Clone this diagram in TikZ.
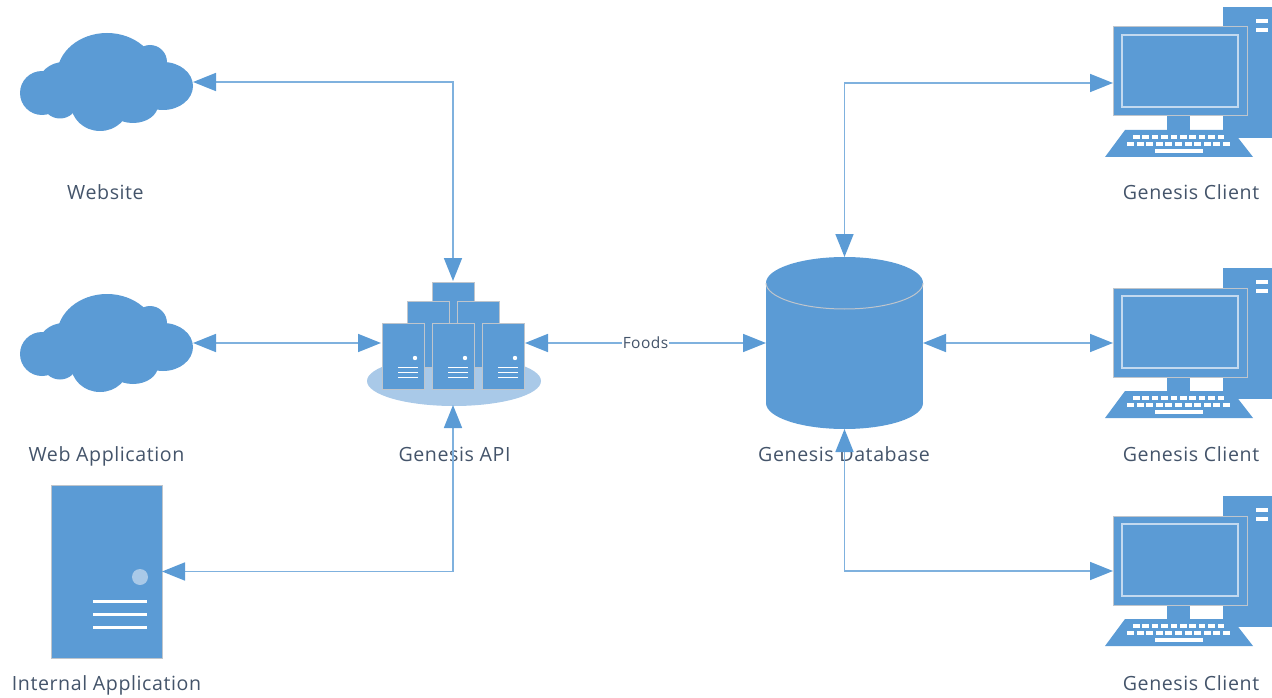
\documentclass[tikz,border=0pt]{standalone}
\usepackage{fontspec}
\setmainfont[LetterSpace=3]{Open Sans}
\usetikzlibrary{arrows.meta}
\definecolor{iconblue}{HTML}{5B9BD5}
\definecolor{paleblue}{HTML}{A9C9E8}
\definecolor{rimgrey}{HTML}{BFC5CC}
\definecolor{textblue}{HTML}{44546A}
\tikzset{
  box/.style={inner sep=0pt,outer sep=0pt},
  lbl/.style={box,anchor=base,text=textblue,font=\fontsize{19.6}{22}\selectfont},
  link/.style={draw=iconblue!78,line width=1.7pt,{Triangle[length=23pt,width=18pt,color=iconblue]}-{Triangle[length=23pt,width=18pt,color=iconblue]}},
  rack/.style={fill=iconblue,draw=rimgrey,line width=1pt},
  cloudicon/.pic={
    \fill[iconblue] (42,93) circle[radius=22];
    \fill[iconblue] (107,75) ellipse[x radius=50,y radius=42];
    \fill[iconblue] (64,85) ellipse[x radius=26,y radius=23];
    \fill[iconblue] (150,62) circle[radius=17];
    \fill[iconblue] (163,86) ellipse[x radius=30,y radius=24];
    \fill[iconblue] (100,104) ellipse[x radius=29,y radius=27];
    \fill[iconblue] (60,103) ellipse[x radius=17,y radius=15.5];
    \fill[iconblue] (133,105) ellipse[x radius=25,y radius=18];
    \fill[iconblue] (60,90) rectangle (165,108);
  },
  clienticon/.pic={
    \fill[iconblue] (1223,7) rectangle (1272,138);
    \fill[white] (1256,19) rectangle (1268,23);
    \fill[white] (1256,28) rectangle (1268,32);
    \fill[iconblue] (1167,116) rectangle (1190,131);
    \fill[iconblue] (1125,130) -- (1232,130) -- (1253,157) -- (1105,157) -- cycle;
    \draw[fill=iconblue,draw=rimgrey,line width=1pt] (1113,27) rectangle (1247,116);
    \draw[paleblue!70!white,line width=1.4pt] (1122,35) rectangle (1238,107);
    \foreach \k in {0,...,9}
      \fill[white] (1133+9.4*\k,135) rectangle +(6.5,4);
    \foreach \k in {0,...,10}
      \fill[white] (1127+9.6*\k,142) rectangle +(7,4);
    \fill[white] (1155,149) rectangle (1203,153);
  },
  serverunit/.pic={
    \draw[rack] (0,0) rectangle (42,66);
    \fill[white] (33,35) circle[radius=2.2];
    \foreach \r in {44,49,54}
      \fill[white] (16,\r) rectangle +(20,1.4);
  }
}
\begin{document}
\begin{tikzpicture}[x=1pt,y=-1pt]
  \useasboundingbox (0,0) rectangle (1272,698);

  % icons
  \path (0,0) pic {cloudicon};
  \path (0,261) pic {cloudicon};
  \path (0,0) pic {clienticon};
  \path (0,261) pic {clienticon};
  \path (0,489) pic {clienticon};

  \path (106.5,82) node[box,minimum width=173,minimum height=98] (W) {};
  \path (106.5,343) node[box,minimum width=173,minimum height=98] (P) {};
  \path (106.5,571.5) node[box,fill=iconblue,draw=rimgrey,line width=.8pt,minimum width=111,minimum height=173] (I) {};
  \fill[paleblue] (140,577) circle[radius=8];
  \foreach \r in {601,614,627}
    \fill[white] (93,\r-1.5) rectangle (147,\r+1.5);

  % server stack
  \path (453,343) node[box,minimum width=144,minimum height=124] (A) {};
  \fill[paleblue] (454,381) ellipse[x radius=87,y radius=25];
  \draw[rack] (432,282) rectangle (474,345);
  \draw[rack] (407,301) rectangle (449,367);
  \draw[rack] (457,301) rectangle (499,367);
  \path (382,323) pic {serverunit};
  \path (432,323) pic {serverunit};
  \path (482,323) pic {serverunit};

  % database
  \path (844.5,343) node[box,minimum width=157,minimum height=172] (D) {};
  \fill[iconblue] (844.5,283) ellipse[x radius=78.5,y radius=26];
  \fill[iconblue] (844.5,403) ellipse[x radius=78.5,y radius=26];
  \fill[iconblue] (766,283) rectangle (923,403);
  \draw[rimgrey,line width=1pt] (766,283) .. controls (766,297) and (801,309) .. (844.5,309) .. controls (888,309) and (923,297) .. (923,283);

  % hit boxes of the clients, the arrows meet them at the screen edge
  \path (1180,83) node[box,minimum width=134,minimum height=112] (C1) {};
  \path (1180,343) node[box,minimum width=134,minimum height=112] (C2) {};
  \path (1180,571) node[box,minimum width=134,minimum height=112] (C3) {};

  % labels
  \path (105.5,200) node[lbl] (Wl) {Website};
  \path (106.5,461) node[lbl] (Pl) {Web Application};
  \path (106.5,690) node[lbl] (Il) {Internal Application};
  \path (454.5,461) node[lbl] (Al) {Genesis API};
  \path (844,461) node[lbl] (Dl) {Genesis Database};
  \path (1191,200) node[lbl] (C1l) {Genesis Client};
  \path (1191,461) node[lbl] (C2l) {Genesis Client};
  \path (1191,690) node[lbl] (C3l) {Genesis Client};

  % connectors
  \draw[link] (W.east) -| (A.north);
  \draw[link] (P.east) -- (A.west);
  \draw[link] (I.east) -| (A.south);
  \draw[link] (A.east) -- node[box,fill=white,inner xsep=1pt,inner ysep=2pt,text=textblue,font=\fontsize{15.5}{17}\selectfont] (F) {Foods} (D.west);
  \draw[link] (D.north) |- (C1.west);
  \draw[link] (D.east) -- (C2.west);
  \draw[link] (D.south) |- (C3.west);
\end{tikzpicture}
\end{document}
